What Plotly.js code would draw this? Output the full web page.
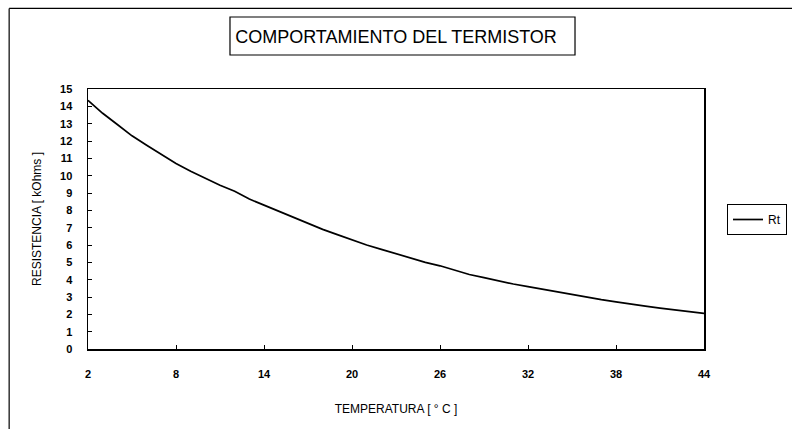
<!DOCTYPE html>
<html>
<head>
<meta charset="utf-8">
<script src="https://cdn.plot.ly/plotly-3.0.1.min.js"></script>
<style>html,body{margin:0;padding:0;background:#fff;}#chart{width:792px;height:429px;}</style>
</head>
<body>
<div id="chart"></div>
<script>
// Temperature in degrees C
const temperatura = [2,3,4,5,6,7,8,9,10,11,12,13,14,15,16,17,18,19,20,21,22,23,24,25,26,27,28,29,30,31,32,33,34,35,36,37,38,39,40,41,42,43,44];
// Resistance Rt in kOhms
const rt = [14.35,13.6,12.95,12.3,11.75,11.2,10.7,10.25,9.85,9.45,9.1,8.65,8.3,7.95,7.6,7.25,6.9,6.6,6.3,6.0,5.75,5.5,5.25,5.0,4.8,4.55,4.3,4.12,3.93,3.75,3.6,3.45,3.3,3.12,2.97,2.85,2.72,2.58,2.47,2.36,2.25,2.15,2.05];
const xTicks = [2,8,14,20,26,32,38,44];
const yTicks = [0,1,2,3,4,5,6,7,8,9,10,11,12,13,14,15];

const font = 'Liberation Sans, Arial, sans-serif';

const trace = {
  x: temperatura, y: rt, type: 'scatter', mode: 'lines', name: 'Rt',
  line: {color: '#000', width: 1.7}
};

const layout = {
  width: 792, height: 429,
  paper_bgcolor: '#fff', plot_bgcolor: '#fff',
  margin: {l: 88, r: 88, t: 89, b: 80, autoexpand: false},
  font: {family: font, color: '#000'},
  title: {text: 'COMPORTAMIENTO DEL TERMISTOR', font: {family: font, size: 18, color: '#000'},
          x: 0.5, xref: 'paper', xanchor: 'center', y: 1 - 37/429, yref: 'container', yanchor: 'middle'},
  xaxis: {
    range: [2, 44], tickvals: xTicks, ticktext: xTicks.map(String),
    ticks: 'inside', ticklen: 4, tickcolor: '#000', showgrid: false, zeroline: false,
    showline: true, linecolor: '#000', linewidth: 1.5, mirror: true,
    tickfont: {family: font, size: 11, color: '#000', weight: 'bold'},
    ticklabelstandoff: 14,
    title: {text: 'TEMPERATURA [ ° C ]', font: {family: font, size: 12, color: '#000'}, standoff: 26}
  },
  yaxis: {
    range: [0, 15], tickvals: yTicks, ticktext: yTicks.map(String),
    ticks: 'inside', ticklen: 4, tickcolor: '#000', showgrid: false, zeroline: false,
    showline: true, linecolor: '#000', linewidth: 1.5, mirror: true,
    tickfont: {family: font, size: 11, color: '#000', weight: 'bold'},
    ticklabelstandoff: 12,
    title: {text: 'RESISTENCIA [ kOhms ]', font: {family: font, size: 12, color: '#000'}, standoff: 16}
  },
  showlegend: true,
  legend: {xref: 'container', yref: 'container', x: 727/792, xanchor: 'left', y: 1 - 219.5/429, yanchor: 'middle',
           bordercolor: '#000', borderwidth: 1,
           bgcolor: '#fff', font: {family: font, size: 12, color: '#000'}, itemwidth: 30, tracegroupgap: 0},
  shapes: [
    {type: 'line', xref: 'paper', yref: 'paper', x0: -0.128, x1: 1.2, y0: 1.31, y1: 1.31, line: {color: '#000', width: 1.2}},
    {type: 'line', xref: 'paper', yref: 'paper', x0: -0.128, x1: -0.128, y0: 1.31, y1: -0.31, line: {color: '#000', width: 1.2}},
    {type: 'rect', xref: 'paper', yref: 'paper', x0: 0.2305, x1: 0.7906, y0: 1.1308, y1: 1.277, line: {color: '#000', width: 1.2}}
  ]
};

Plotly.newPlot('chart', [trace], layout, {staticPlot: true, displayModeBar: false});
</script>
</body>
</html>
